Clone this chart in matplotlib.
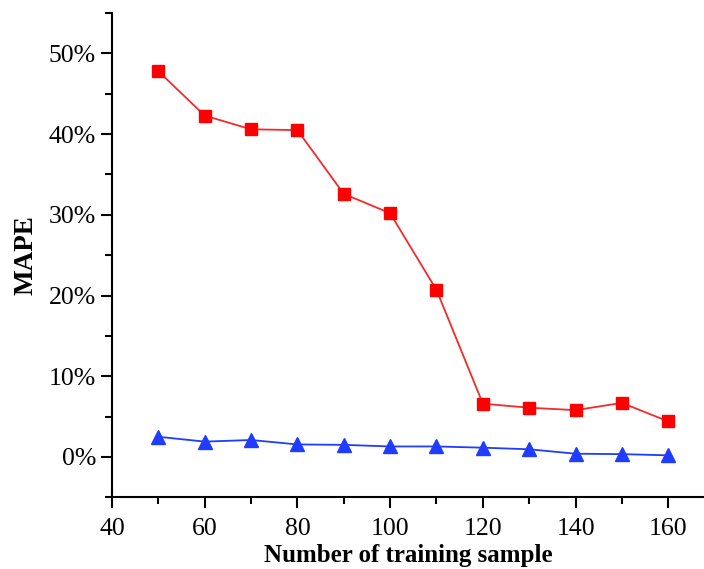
import matplotlib.pyplot as plt
from matplotlib.ticker import MultipleLocator, FuncFormatter

# training sample counts
samples = [50, 60, 70, 80, 90, 100, 110, 120, 130, 140, 150, 160]
# MAPE (%) of the two models
mape_red = [47.8, 42.3, 40.6, 40.5, 32.6, 30.2, 20.7, 6.6, 6.1, 5.8, 6.7, 4.4]
mape_blue = [2.5, 1.9, 2.1, 1.55, 1.5, 1.3, 1.3, 1.15, 0.95, 0.4, 0.35, 0.2]

plt.rcParams['font.family'] = ['Liberation Serif', 'DejaVu Serif']

fig = plt.figure(figsize=(7.04, 5.69), dpi=100)
ax = fig.add_axes([0.159, 0.126, 0.841, 0.851])

ax.plot(samples, mape_red, color='#f52a2a', lw=1.3, marker='s', markersize=9,
        markerfacecolor='#ff0000', markeredgecolor='#ff0000')
ax.plot(samples, mape_blue, color='#1f3cff', lw=1.3, marker='^', markersize=10.5,
        markerfacecolor='#1f3cff', markeredgecolor='#1f3cff')

ax.set_xlim(40, 167.7)
ax.set_ylim(-5, 55)
ax.xaxis.set_major_locator(MultipleLocator(20))
ax.xaxis.set_minor_locator(MultipleLocator(10))
ax.yaxis.set_major_locator(MultipleLocator(10))
ax.yaxis.set_minor_locator(MultipleLocator(5))
ax.yaxis.set_major_formatter(FuncFormatter(lambda v, p: f"{v:.0f}%"))

for s in ['top', 'right']:
    ax.spines[s].set_visible(False)
for s in ['left', 'bottom']:
    ax.spines[s].set_linewidth(1.5)

ax.tick_params(which='major', direction='out', length=8, width=1.5, labelsize=18.5)
ax.tick_params(axis='x', which='major', pad=7)
ax.tick_params(which='minor', direction='out', length=5, width=1.5)

ax.set_xlabel("Number of training sample", fontsize=18, fontweight='bold', labelpad=3)
ax.set_ylabel("MAPE", fontsize=19.5, fontweight='bold', labelpad=7)

fig.savefig("out.png", dpi=100)
